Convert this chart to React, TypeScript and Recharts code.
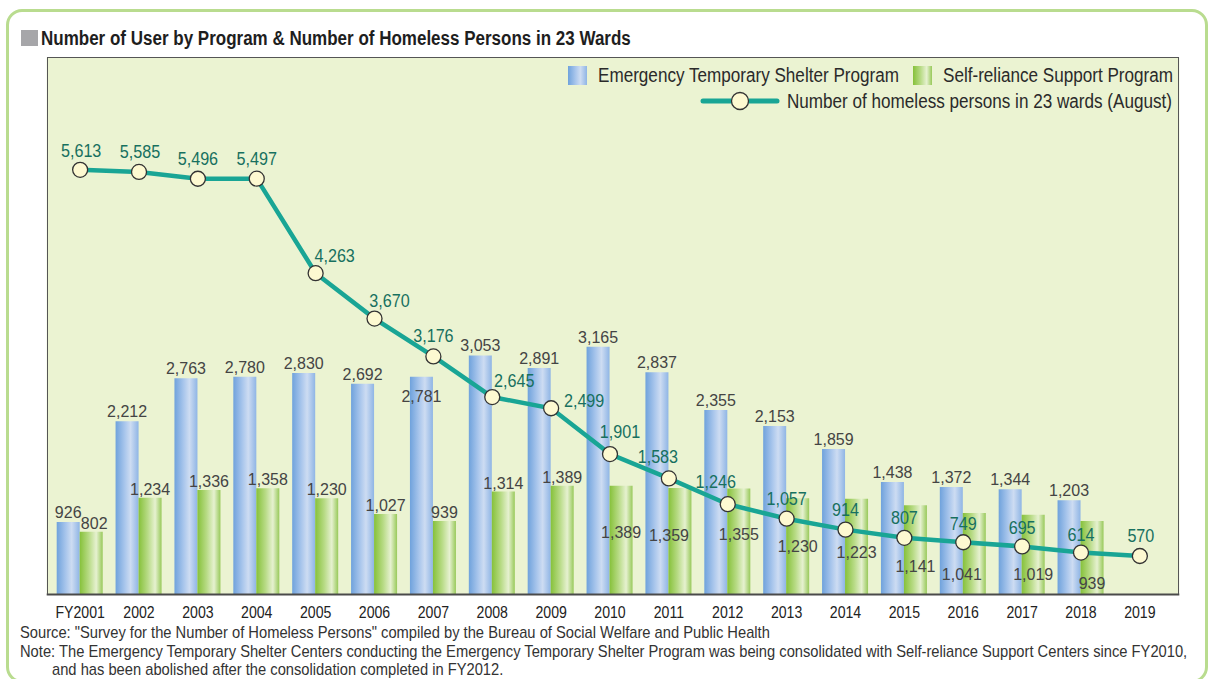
import React from "react";
import {
  ComposedChart,
  Bar,
  Line,
  XAxis,
  YAxis,
  CartesianGrid,
  LabelList,
  Legend,
} from "recharts";

const years = [
  "FY2001", "2002", "2003", "2004", "2005", "2006", "2007", "2008", "2009", "2010",
  "2011", "2012", "2013", "2014", "2015", "2016", "2017", "2018", "2019",
];
const emergencyUsers = [
  926, 2212, 2763, 2780, 2830, 2692, 2781, 3053, 2891, 3165,
  2837, 2355, 2153, 1859, 1438, 1372, 1344, 1203, null,
];
const selfRelianceUsers = [
  802, 1234, 1336, 1358, 1230, 1027, 939, 1314, 1389, 1389,
  1359, 1355, 1230, 1223, 1141, 1041, 1019, 939, null,
];
const homelessPersons = [
  5613, 5585, 5496, 5497, 4263, 3670, 3176, 2645, 2499, 1901,
  1583, 1246, 1057, 914, 807, 749, 695, 614, 570,
];

const chartData = years.map((year, i) => ({
  year,
  emergency: emergencyUsers[i],
  selfReliance: selfRelianceUsers[i],
  homeless: homelessPersons[i],
}));

// label placement tweaks (the printed chart moves some labels off the marks)
const emergencyLabelDrop: Record<number, number> = { 6: 25.5 };
const selfLabelDrop: Record<number, number> = {
  9: 52, 10: 53, 11: 52, 12: 53.5, 13: 59, 14: 66.5, 15: 67, 16: 65.3, 17: 68.3,
};
const selfLabelShift: Record<number, number> = { 0: 3, 10: -11, 15: -12.5 };
const lineLabelShift: [number, number][] = [
  [1, 12.5], [1, 13.5], [0, 14], [0, 14], [19, 11.5], [15, 12], [0, 14], [22, 10],
  [33, 1.5], [10, 16.5], [-11, 15], [-12, 16.5], [0, 14], [0, 14], [0, 13.5],
  [0, 12], [0, 12.5], [0, 11.5], [1, 14],
];

const FONT = '"Liberation Sans", Arial, sans-serif';
const fmt = (v: number) => v.toLocaleString("en-US");

const pick = (props: any) => {
  const vb = props.viewBox || {};
  return {
    x: props.x ?? vb.x,
    y: props.y ?? vb.y,
    width: props.width ?? vb.width ?? 0,
  };
};

const EmergencyLabel = (props: any) => {
  const { value, index } = props;
  if (value == null) return null;
  const { x, y, width } = pick(props);
  const drop = emergencyLabelDrop[index];
  const base = drop != null ? y + drop : y - 4;
  return (
    <text x={x + width / 2} y={base} textAnchor="middle" fill="#444" fontSize={16} fontFamily={FONT}>
      {fmt(value)}
    </text>
  );
};

const SelfLabel = (props: any) => {
  const { value, index } = props;
  if (value == null) return null;
  const { x, y, width } = pick(props);
  const drop = selfLabelDrop[index];
  const base = drop != null ? y + drop : y - 3;
  const shift = selfLabelShift[index] || 0;
  return (
    <text x={x + width / 2 + shift} y={base} textAnchor="middle" fill="#444" fontSize={16} fontFamily={FONT}>
      {fmt(value)}
    </text>
  );
};

const HomelessLabel = (props: any) => {
  const { value, index } = props;
  if (value == null) return null;
  const { x, y } = pick(props);
  const [dx, above] = lineLabelShift[index] || [0, 14];
  return (
    <text
      transform={`translate(${x + dx},${y - above}) scale(0.85,1)`}
      textAnchor="middle"
      fill="#17705f"
      fontSize={19}
      fontFamily={FONT}
    >
      {fmt(value)}
    </text>
  );
};

const YearTick = (props: any) => {
  const { x, y, payload } = props;
  return (
    <text
      transform={`translate(${x},${y}) scale(0.83,1)`}
      textAnchor="middle"
      dy="0.71em"
      fill="#222"
      fontSize={17}
      fontFamily={FONT}
    >
      {payload.value}
    </text>
  );
};

const blueCss = "linear-gradient(to right, #6fa2dc 0%, #a9c6ec 40%, #cddcf2 65%, #8fb5e5 100%)";
const greenCss = "linear-gradient(to right, #86c13a 0%, #b8db86 40%, #e6f1d0 72%, #98c95a 100%)";

const narrowText = (left: number, top: number, text: string): React.ReactNode => (
  <span
    style={{
      position: "absolute",
      left,
      top,
      fontSize: 20,
      lineHeight: "22px",
      whiteSpace: "nowrap",
      transform: "scaleX(0.855)",
      transformOrigin: "left",
      color: "#2a2a2a",
    }}
  >
    {text}
  </span>
);

const renderLegend = () => (
  <div style={{ position: "relative", width: 1208, height: 0, fontFamily: FONT }}>
    <span style={{ position: "absolute", left: 568, top: 66, width: 19, height: 19, background: blueCss }} />
    {narrowText(598, 64, "Emergency Temporary Shelter Program")}
    <span style={{ position: "absolute", left: 913, top: 66, width: 19, height: 19, background: greenCss }} />
    {narrowText(943, 64, "Self-reliance Support Program")}
    <svg width={80} height={22} style={{ position: "absolute", left: 700, top: 90 }}>
      <line x1={3} y1={11} x2={77} y2={11} stroke="#19a595" strokeWidth={5} strokeLinecap="round" />
      <circle cx={40} cy={11} r={8.5} fill="#fdf9d1" stroke="#333" strokeWidth={1.3} />
    </svg>
    {narrowText(787, 90, "Number of homeless persons in 23 wards (August)")}
  </div>
);

const noteLine: React.CSSProperties = {
  fontSize: 17,
  lineHeight: "19px",
  whiteSpace: "nowrap",
  transform: "scaleX(0.865)",
  transformOrigin: "left",
};

const App = () => {
  return (
    <div
      style={{
        position: "absolute",
        left: 0,
        top: 0,
        width: 1208,
        height: 679,
        background: "#fff",
        overflow: "hidden",
        fontFamily: FONT,
      }}
    >
      <div
        style={{
          position: "absolute",
          left: 6,
          top: 9,
          width: 1196,
          height: 668,
          border: "3px solid #b9dc8f",
          borderRadius: 16,
        }}
      />
      <div
        style={{
          position: "absolute",
          left: 21,
          top: 30,
          width: 17,
          height: 16,
          background: "#a6a6a9",
        }}
      />
      <div
        style={{
          position: "absolute",
          left: 41,
          top: 26,
          fontSize: 20,
          fontWeight: "bold",
          color: "#1e1e1e",
          whiteSpace: "nowrap",
          lineHeight: "24px",
          transform: "scaleX(0.85)",
          transformOrigin: "left",
        }}
      >
        Number of User by Program &amp; Number of Homeless Persons in 23 Wards
      </div>

      <div style={{ position: "absolute", left: 0, top: 0 }}>
        <ComposedChart
          width={1208}
          height={679}
          data={chartData}
          margin={{ top: 57.3, right: 28.7, left: 46.7, bottom: 54.5 }}
          barGap={0}
        >
          <defs>
            <linearGradient id="blueGrad" x1="0" y1="0" x2="1" y2="0">
              <stop offset="0%" stopColor="#6fa2dc" />
              <stop offset="40%" stopColor="#a9c6ec" />
              <stop offset="65%" stopColor="#cddcf2" />
              <stop offset="100%" stopColor="#8fb5e5" />
            </linearGradient>
            <linearGradient id="greenGrad" x1="0" y1="0" x2="1" y2="0">
              <stop offset="0%" stopColor="#86c13a" />
              <stop offset="40%" stopColor="#b8db86" />
              <stop offset="72%" stopColor="#e6f1d0" />
              <stop offset="100%" stopColor="#98c95a" />
            </linearGradient>
          </defs>
          <CartesianGrid fill="#ebf3d2" stroke="none" horizontal={false} vertical={false} />
          <XAxis
            dataKey="year"
            height={30}
            padding={{ left: 4, right: 10 }}
            tickLine={false}
            tickSize={0}
            tickMargin={11}
            axisLine={{ stroke: "#4a4a4a", strokeWidth: 2 }}
            tick={<YearTick />}
            interval={0}
          />
          <YAxis yAxisId="bars" domain={[0, 6860]} hide />
          <YAxis yAxisId="line" domain={[67, 7082]} hide allowDataOverflow />
          <Legend
            layout="horizontal"
            verticalAlign="middle"
            align="center"
            content={renderLegend}
            wrapperStyle={{ top: 0, left: 0, width: 1208, height: 0 }}
          />
          <Bar
            yAxisId="bars"
            dataKey="emergency"
            name="Emergency Temporary Shelter Program"
            fill="url(#blueGrad)"
            barSize={23}
            isAnimationActive={false}
          >
            <LabelList dataKey="emergency" content={EmergencyLabel} />
          </Bar>
          <Bar
            yAxisId="bars"
            dataKey="selfReliance"
            name="Self-reliance Support Program"
            fill="url(#greenGrad)"
            barSize={23}
            isAnimationActive={false}
          >
            <LabelList dataKey="selfReliance" content={SelfLabel} />
          </Bar>
          <Line
            yAxisId="line"
            dataKey="homeless"
            name="Number of homeless persons in 23 wards (August)"
            stroke="#19a595"
            strokeWidth={4.5}
            dot={{ r: 7.5, fill: "#fdf9d1", stroke: "#333", strokeWidth: 1.3 }}
            activeDot={false}
            isAnimationActive={false}
          >
            <LabelList dataKey="homeless" content={HomelessLabel} />
          </Line>
        </ComposedChart>
      </div>

      <div
        style={{
          position: "absolute",
          left: 46.7,
          top: 57.3,
          width: 1132.6,
          height: 537.2,
          borderTop: "1px solid #555",
          borderLeft: "1px solid #555",
          borderRight: "1px solid #555",
          boxSizing: "border-box",
          pointerEvents: "none",
        }}
      />

      <div style={{ position: "absolute", left: 20, top: 623, color: "#333", width: 1300 }}>
        <div style={noteLine}>
          Source: "Survey for the Number of Homeless Persons" compiled by the Bureau of Social Welfare and Public Health
        </div>
        <div style={noteLine}>
          Note: The Emergency Temporary Shelter Centers conducting the Emergency Temporary Shelter Program was being
          consolidated with Self-reliance Support Centers since FY2010,
        </div>
        <div style={{ ...noteLine, paddingLeft: 37, lineHeight: "18px" }}>
          and has been abolished after the consolidation completed in FY2012.
        </div>
      </div>
    </div>
  );
};

export default App;
